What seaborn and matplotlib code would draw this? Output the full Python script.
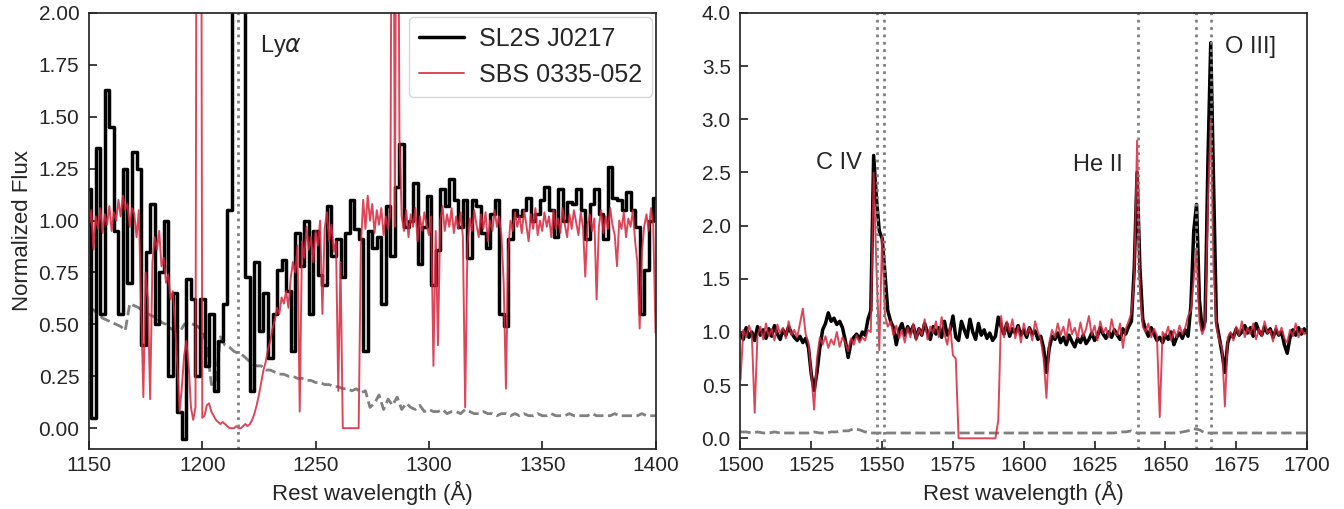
"""UV spectra of SL2S J0217 and SBS 0335-052 around Lya and C IV / He II / O III]."""

import matplotlib

matplotlib.use("Agg")
import matplotlib.pyplot as plt
import numpy as np
import seaborn as sns

# ---- left panel: 1150-1400 A --------------------------------------------
LEFT_START = 1150.0
# SL2S J0217, 2 A bins
left_sl2s = [
    1.15, 0.05, 1.35, 0.55, 1.63, 1.45, 0.95, 0.55, 1.25, 0.70,  # 1150
    1.33, 1.25, 0.40, 0.85, 1.08, 0.50, 0.75, 1.00, 0.25, 0.65,  # 1170
    0.08, -0.05, 0.72, 0.62, 0.25, 0.62, 0.30, 0.55, 0.18, 0.42,  # 1190
    0.60, 1.05, 2.60, 3.00, 2.40, 0.73, 0.18, 0.80, 0.47, 0.65,  # 1210
    0.34, 0.55, 0.76, 0.81, 0.66, 0.37, 0.94, 0.78, 1.00, 0.55,  # 1230
    0.95, 0.74, 0.69, 1.07, 0.83, 0.91, 0.73, 0.94, 1.10, 0.96,  # 1250
    0.91, 0.37, 0.95, 0.87, 0.92, 0.60, 1.07, 0.83, 1.16, 1.37,  # 1270
    0.97, 1.00, 1.18, 0.79, 0.97, 1.12, 0.69, 0.86, 1.15, 1.07,  # 1290
    1.20, 1.10, 0.97, 1.10, 0.82, 1.10, 1.07, 0.94, 0.87, 1.03,  # 1310
    1.10, 0.55, 0.49, 0.91, 1.05, 1.02, 1.05, 1.11, 1.00, 1.03,  # 1330
    1.10, 1.16, 1.05, 0.92, 1.15, 1.00, 1.09, 1.08, 1.15, 1.05,  # 1350
    0.91, 1.08, 1.15, 1.03, 0.91, 1.26, 1.11, 1.10, 1.05, 1.14,  # 1370
    1.05, 0.97, 0.55, 0.76, 1.00, 1.11,                          # 1390
]
# SBS 0335-052, 1 A bins
left_sbs = [
    0.97, 1.05, 0.86, 1.02, 0.96, 1.06, 0.94, 1.03, 0.98, 1.07,  # 1150
    0.95, 1.04, 1.00, 1.10, 1.02, 1.12, 1.05, 1.08, 0.97, 1.06,  # 1160
    1.03, 0.92, 1.05, 0.60, 0.15, 0.75, 0.62, 0.14, 0.80, 0.92,  # 1170
    0.86, 0.95, 0.78, 0.82, 0.70, 0.74, 0.62, 0.66, 0.50, 0.30,  # 1180
    0.08, 0.20, 0.35, 0.42, 0.30, 0.10, 0.04, 0.10, 6.00, 6.00,  # 1190
    0.05, 0.06, 0.11, 0.12, 0.08, 0.06, 0.04, 0.03, 0.02, 0.03,  # 1200
    0.02, 0.01, 0.00, 0.00, 0.00, 0.01, 0.00, 0.00, 0.01, 0.02,  # 1210
    0.01, 0.02, 0.04, 0.07, 0.11, 0.16, 0.22, 0.28, 0.32, 0.38,  # 1220
    0.42, 0.48, 0.52, 0.58, 0.55, 0.63, 0.60, 0.66, 0.58, 0.72,  # 1230
    0.80, 0.75, 0.88, 0.08, 0.90, 0.82, 0.97, 0.86, 0.92, 0.80,  # 1240
    0.95, 0.88, 1.00, 0.55, 0.96, 1.04, 0.90, 0.98, 0.85, 0.90,  # 1250
    0.18, 0.80, 0.00, 0.00, 0.00, 0.00, 0.00, 0.00, 0.00, 0.00,  # 1260
    0.88, 1.10, 0.96, 1.12, 1.00, 1.08, 0.94, 1.05, 0.98, 1.06,  # 1270
    0.93, 1.02, 0.96, 1.04, 4.00, 0.97, 4.00, 1.40, 1.02, 0.95,  # 1280
    1.05, 0.92, 1.03, 0.97, 1.06, 0.90, 1.02, 0.95, 1.04, 0.98,  # 1290
    0.93, 1.02, 0.30, 0.95, 0.40, 1.00, 1.07, 0.95, 1.03, 0.97,  # 1300
    1.06, 0.94, 1.02, 0.96, 1.04, 0.92, 0.10, 0.88, 1.01, 0.95,  # 1310
    1.05, 0.98, 0.92, 1.03, 0.96, 1.04, 0.90, 1.00, 0.95, 1.05,  # 1320
    0.97, 1.02, 0.93, 0.70, 0.19, 0.85, 1.00, 0.95, 1.04, 0.97,  # 1330
    1.02, 0.94, 1.05, 0.98, 0.90, 1.03, 0.96, 1.06, 0.93, 1.00,  # 1340
    0.95, 1.04, 0.97, 1.02, 0.92, 1.05, 0.96, 1.01, 0.94, 1.06,  # 1350
    0.98, 0.92, 1.03, 0.96, 1.05, 0.99, 0.93, 1.04, 0.97, 0.73,  # 1360
    0.98, 1.03, 0.95, 1.01, 0.62, 0.97, 1.05, 0.94, 1.02, 0.96,  # 1370
    1.06, 0.98, 0.93, 0.78, 1.00, 0.96, 1.04, 0.92, 1.01, 0.97,  # 1380
    1.05, 0.90, 0.80, 0.48, 0.85, 0.97, 1.03, 0.95, 1.06, 0.98,  # 1390
    0.46,                                                        # 1400
]
# error spectrum of SL2S J0217, 2 A bins
left_err = [
    0.58, 0.57, 0.55, 0.53, 0.52, 0.51, 0.50, 0.49, 0.47, 0.60,  # 1150
    0.59, 0.58, 0.56, 0.55, 0.54, 0.53, 0.51, 0.50, 0.48, 0.47,  # 1170
    0.46, 0.50, 0.51, 0.50, 0.49, 0.47, 0.40, 0.21, 0.22, 0.44,  # 1190
    0.40, 0.39, 0.37, 0.36, 0.35, 0.33, 0.31, 0.30, 0.30, 0.28,  # 1210
    0.28, 0.27, 0.26, 0.26, 0.25, 0.25, 0.24, 0.24, 0.23, 0.23,  # 1230
    0.22, 0.22, 0.21, 0.21, 0.20, 0.20, 0.19, 0.19, 0.18, 0.19,  # 1250
    0.17, 0.18, 0.10, 0.12, 0.16, 0.09, 0.14, 0.11, 0.15, 0.09,  # 1270
    0.12, 0.10, 0.09, 0.11, 0.08, 0.09, 0.08, 0.08, 0.09, 0.07,  # 1290
    0.08, 0.08, 0.07, 0.09, 0.08, 0.07, 0.07, 0.08, 0.07, 0.07,  # 1310
    0.06, 0.07, 0.07, 0.06, 0.07, 0.06, 0.07, 0.06, 0.06, 0.07,  # 1330
    0.06, 0.06, 0.07, 0.06, 0.06, 0.06, 0.07, 0.06, 0.06, 0.06,  # 1350
    0.06, 0.07, 0.06, 0.06, 0.06, 0.06, 0.07, 0.06, 0.06, 0.06,  # 1370
    0.06, 0.06, 0.07, 0.06, 0.06, 0.06,                          # 1390
]

# ---- right panel: 1500-1700 A -------------------------------------------
RIGHT_START = 1500.0
right_sl2s = [
    0.98, 0.93, 1.04, 0.95, 1.00, 0.92, 1.05, 0.97, 1.02, 0.94,  # 1500
    1.03, 0.96, 1.06, 0.98, 0.93, 1.02, 0.97, 1.05, 0.99, 0.95,  # 1510
    0.92, 0.96, 0.90, 0.94, 0.85, 0.60, 0.45, 0.62, 0.85, 1.02,  # 1520
    1.08, 1.18, 1.10, 1.13, 1.07, 1.10, 1.04, 0.92, 0.76, 0.90,  # 1530
    0.95, 0.98, 0.93, 1.00, 0.97, 1.12, 1.20, 2.66, 2.25, 1.95,  # 1540
    1.88, 1.55, 1.20, 1.10, 1.04, 0.88, 1.02, 1.08, 0.97, 1.05,  # 1550
    0.99, 1.06, 0.94, 1.03, 0.97, 1.08, 1.00, 0.93, 1.05, 0.98,  # 1560
    1.04, 0.95, 1.10, 0.97, 1.02, 1.15, 0.95, 0.92, 1.10, 1.02,  # 1570
    0.95, 1.12, 1.00, 0.93, 1.08, 0.97, 1.02, 0.94, 0.99, 0.92,  # 1580
    0.96, 1.14, 1.05, 0.98, 1.08, 0.96, 1.03, 0.99, 1.06, 0.97,  # 1590
    1.02, 0.95, 1.04, 0.98, 1.01, 0.93, 0.96, 0.85, 0.62, 0.85,  # 1600
    0.96, 0.93, 0.99, 0.90, 0.95, 0.88, 0.97, 0.91, 0.86, 0.94,  # 1610
    0.90, 0.97, 0.89, 0.93, 0.99, 0.92, 0.96, 1.04, 0.98, 0.94,  # 1620
    1.00, 0.95, 1.02, 0.97, 0.93, 1.03, 0.98, 1.05, 1.10, 1.60,  # 1630
    2.50, 1.60, 1.12, 1.02, 0.96, 1.04, 0.98, 0.92, 0.95, 0.90,  # 1640
    0.97, 0.93, 1.00, 0.88, 0.95, 0.99, 0.94, 1.02, 0.96, 1.25,  # 1650
    1.95, 2.20, 1.30, 1.02, 1.10, 2.60, 3.72, 2.40, 1.10, 0.95,  # 1660
    0.80, 0.62, 0.90, 0.98, 0.95, 1.03, 0.97, 1.00, 1.06, 0.99,  # 1670
    1.04, 0.96, 1.08, 1.01, 0.97, 1.05, 0.99, 1.03, 0.95, 1.02,  # 1680
    0.97, 1.00, 0.88, 0.80, 0.95, 1.02, 0.97, 1.04, 0.98, 1.03,  # 1690
    0.99,                                                        # 1700
]
right_sbs = [
    0.55, 1.02, 0.95, 1.06, 0.98, 0.24, 0.97, 1.05, 0.93, 1.08,  # 1500
    0.96, 1.03, 0.92, 1.07, 0.99, 1.04, 0.94, 1.10, 0.97, 1.02,  # 1510
    0.95, 1.08, 1.22, 0.98, 0.90, 0.60, 0.27, 0.75, 0.95, 0.88,  # 1520
    0.96, 0.85, 0.93, 0.88, 1.00, 0.86, 0.95, 0.90, 0.82, 0.94,  # 1530
    0.88, 0.97, 0.90, 0.95, 0.92, 1.02, 1.00, 2.50, 1.60, 0.83,  # 1540
    1.90, 1.15, 1.05, 1.10, 0.97, 1.06, 0.94, 1.02, 0.90, 1.04,  # 1550
    0.95, 1.08, 0.92, 1.03, 0.97, 1.12, 0.93, 1.05, 0.99, 1.10,  # 1560
    0.95, 1.14, 0.98, 0.88, 1.06, 0.78, 0.75, 0.00, 0.00, 0.00,  # 1570
    0.00, 0.00, 0.00, 0.00, 0.00, 0.00, 0.00, 0.00, 0.00, 0.00,  # 1580
    0.00, 0.17, 1.15, 0.95, 1.10, 1.00, 1.12, 0.94, 1.05, 0.90,  # 1590
    1.08, 0.97, 1.04, 0.92, 1.10, 1.00, 0.93, 0.75, 0.38, 0.90,  # 1600
    1.02, 0.95, 1.08, 0.97, 1.05, 0.93, 1.12, 0.98, 1.04, 0.94,  # 1610
    1.09, 0.96, 1.03, 1.15, 0.97, 1.06, 0.92, 1.10, 0.99, 1.04,  # 1620
    0.95, 1.12, 1.00, 0.97, 1.08, 0.85, 1.03, 1.10, 1.18, 1.50,  # 1630
    2.80, 1.40, 1.05, 1.00, 1.08, 0.95, 1.03, 0.97, 0.20, 1.00,  # 1640
    0.96, 1.05, 0.92, 1.02, 0.95, 1.06, 0.98, 1.04, 1.15, 1.20,  # 1650
    1.50, 1.79, 1.10, 0.98, 1.05, 2.20, 3.00, 1.60, 1.05, 0.92,  # 1660
    0.85, 0.30, 0.95, 1.00, 0.92, 1.05, 0.97, 1.10, 0.95, 1.04,  # 1670
    0.98, 1.08, 0.93, 1.03, 0.96, 1.10, 0.99, 1.02, 0.91, 1.06,  # 1680
    0.97, 1.04, 0.94, 0.90, 1.02, 0.96, 1.08, 0.95, 1.03, 0.98,  # 1690
    1.00,                                                        # 1700
]
right_err = [
    0.06, 0.06, 0.05, 0.06, 0.05, 0.05, 0.06, 0.05, 0.05, 0.05,  # 1500
    0.05, 0.05, 0.05, 0.06, 0.05, 0.05, 0.06, 0.06, 0.07, 0.07,  # 1520
    0.09, 0.08, 0.06, 0.05, 0.05, 0.05, 0.05, 0.05, 0.05, 0.05,  # 1540
    0.05, 0.05, 0.05, 0.05, 0.05, 0.05, 0.05, 0.05, 0.05, 0.05,  # 1560
    0.05, 0.05, 0.05, 0.05, 0.05, 0.05, 0.05, 0.05, 0.05, 0.05,  # 1580
    0.05, 0.05, 0.05, 0.05, 0.05, 0.05, 0.05, 0.05, 0.05, 0.05,  # 1600
    0.05, 0.05, 0.05, 0.05, 0.05, 0.05, 0.05, 0.06, 0.06, 0.07,  # 1620
    0.05, 0.05, 0.05, 0.05, 0.05, 0.05, 0.05, 0.05, 0.06, 0.07,  # 1640
    0.09, 0.08, 0.05, 0.05, 0.05, 0.05, 0.05, 0.05, 0.05, 0.05,  # 1660
    0.05, 0.05, 0.05, 0.05, 0.05, 0.05, 0.05, 0.05, 0.05, 0.05,  # 1680
    0.05,                                                        # 1700
]

# rest wavelengths of the marked lines
lya_line = [1215.67]
uv_lines = [1548.19, 1550.77, 1640.42, 1660.81, 1666.15]

SL2S_COLOR = "black"
SBS_COLOR = "#d7263d"
ERR_COLOR = "0.5"
TEXT_COLOR = "0.15"


def _grid(start, step, values):
    return start + step * np.arange(len(values))


def _draw_panel(ax, sl2s, sbs, err, start, sl2s_step, sbs_step, err_step, sl2s_style):
    sns.lineplot(x=_grid(start, err_step, err), y=err, ax=ax, color=ERR_COLOR,
                 lw=2, ls="--", estimator=None, sort=False)
    sns.lineplot(x=_grid(start, sl2s_step, sl2s), y=sl2s, ax=ax, color=SL2S_COLOR,
                 lw=2.5, drawstyle=sl2s_style, estimator=None, sort=False,
                 label="SL2S J0217")
    sns.lineplot(x=_grid(start, sbs_step, sbs), y=sbs, ax=ax, color=SBS_COLOR,
                 lw=1.4, alpha=0.85, estimator=None, sort=False,
                 label="SBS 0335-052")


sns.set_theme(style="ticks")
plt.rcParams["font.family"] = ["Liberation Sans", "DejaVu Sans"]
plt.rcParams["xtick.direction"] = "in"
plt.rcParams["ytick.direction"] = "in"
plt.rcParams["xtick.labelsize"] = 15
plt.rcParams["ytick.labelsize"] = 15
plt.rcParams["xtick.major.pad"] = 5
plt.rcParams["ytick.major.pad"] = 7
plt.rcParams["axes.labelsize"] = 16

fig, (ax1, ax2) = plt.subplots(1, 2, figsize=(13.44, 5.09), dpi=100)
fig.subplots_adjust(left=0.0662, right=0.9725, bottom=0.118, top=0.9745, wspace=0.15)

_draw_panel(ax1, left_sl2s, left_sbs, left_err, LEFT_START, 2.0, 1.0, 2.0, "steps-mid")
for lam in lya_line:
    ax1.axvline(lam, color="0.5", lw=2, ls=":")
ax1.text(1225.5, 1.84, r"Ly$\alpha$", fontsize=17, va="center", color=TEXT_COLOR)
ax1.set_xlim(1150, 1400)
ax1.set_ylim(-0.1, 2.0)
ax1.set_xticks(np.arange(1150, 1401, 50))
ax1.set_yticks(np.arange(0, 2.01, 0.25))
ax1.yaxis.set_major_formatter(matplotlib.ticker.FormatStrFormatter("%.2f"))
ax1.set_xlabel("Rest wavelength (Å)")
ax1.set_ylabel("Normalized Flux")
ax1.legend(loc="upper right", fontsize=18, borderaxespad=0.15,
           handlelength=1.8, handletextpad=0.6)

_draw_panel(ax2, right_sl2s, right_sbs, right_err, RIGHT_START, 1.0, 1.0, 2.0, "default")
for lam in uv_lines:
    ax2.axvline(lam, color="0.5", lw=2, ls=":")
ax2.text(1526.5, 2.59, "C IV", fontsize=17, va="center", color=TEXT_COLOR)
ax2.text(1617.3, 2.57, "He II", fontsize=17, va="center", color=TEXT_COLOR)
ax2.text(1671.0, 3.68, "O III]", fontsize=17, va="center", color=TEXT_COLOR)
ax2.set_xlim(1500, 1700)
ax2.set_ylim(-0.1, 4.0)
ax2.set_xticks(np.arange(1500, 1701, 25))
ax2.set_yticks(np.arange(0, 4.01, 0.5))
ax2.yaxis.set_major_formatter(matplotlib.ticker.FormatStrFormatter("%.1f"))
ax2.set_xlabel("Rest wavelength (Å)")
ax2.set_ylabel("")
ax2.get_legend().remove()

fig.savefig("out.png", dpi=100)
